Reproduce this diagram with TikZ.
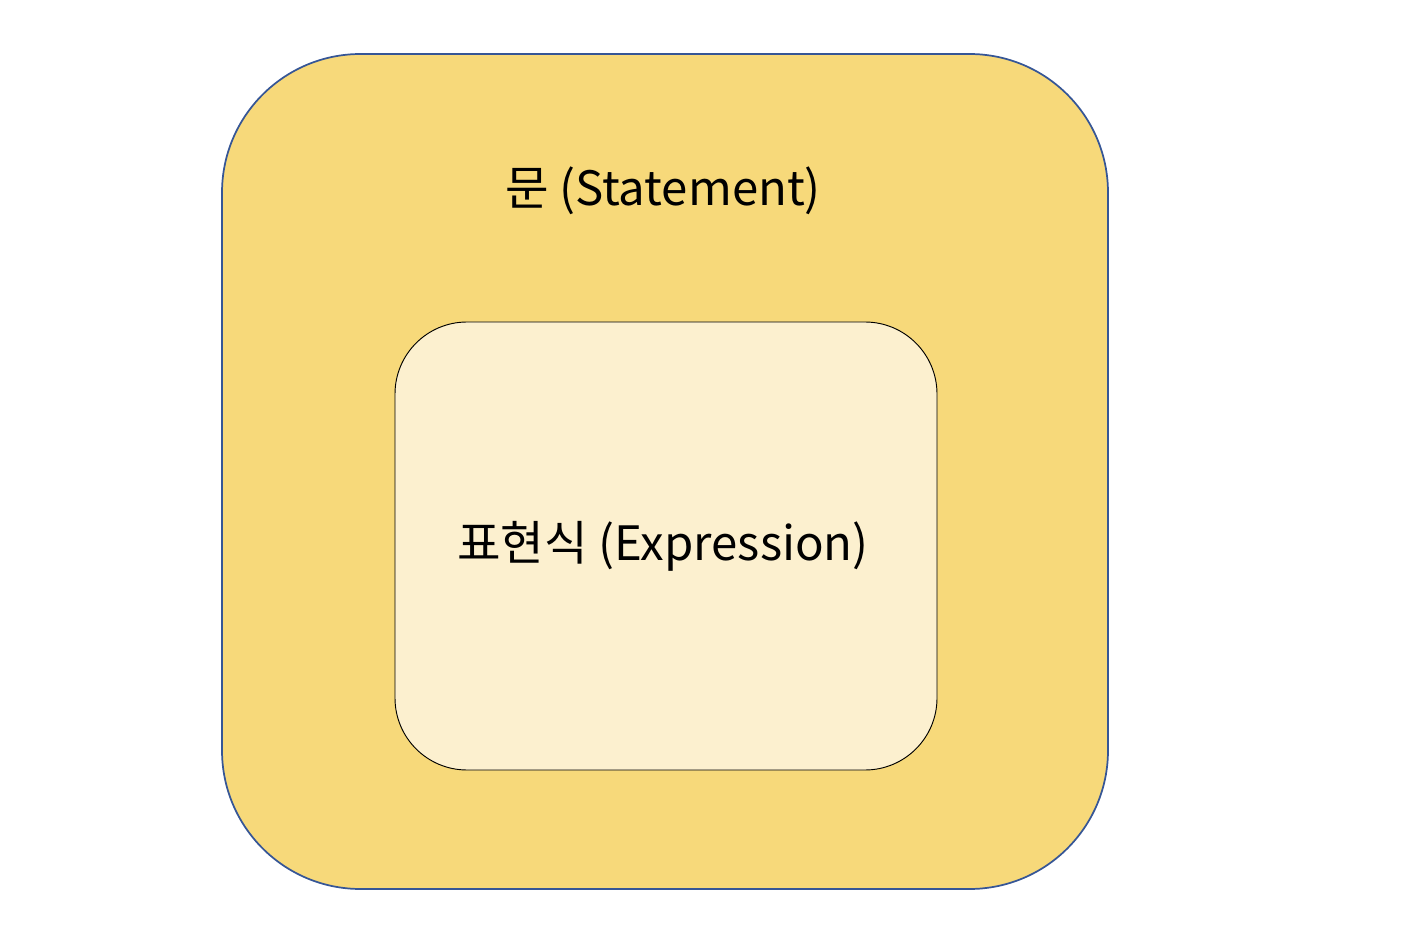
\documentclass[tikz,border=0pt]{standalone}
\usepackage{fontspec}
\setmainfont{Noto Sans CJK KR}
\usepackage{tikz}
\usetikzlibrary{positioning}
\definecolor{outerfill}{RGB}{247,217,122}
\definecolor{innerfill}{RGB}{252,240,207}
\definecolor{outerline}{RGB}{54,86,150}

\tikzset{
    outer box/.style={draw=outerline, line width=1.3pt, fill=outerfill, rounded corners=104pt},
    inner box/.style={draw=black, line width=0.7pt, fill=innerfill, rounded corners=54pt},
    label text/.style={font=\fontsize{35.5}{40}\selectfont, text=black, inner sep=0pt}
}

\begin{document}
\begin{tikzpicture}[x=0.75pt,y=-0.75pt]
\useasboundingbox (0,0) rectangle (1402,944);
\draw[outer box] (222,54) rectangle (1108,889);
\draw[inner box] (395,322) rectangle (937,770);
\node[label text] (statement) at (663,191) {문 (Statement)};
\node[label text] (expression) at (663,546) {표현식 (Expression)};
\end{tikzpicture}
\end{document}
